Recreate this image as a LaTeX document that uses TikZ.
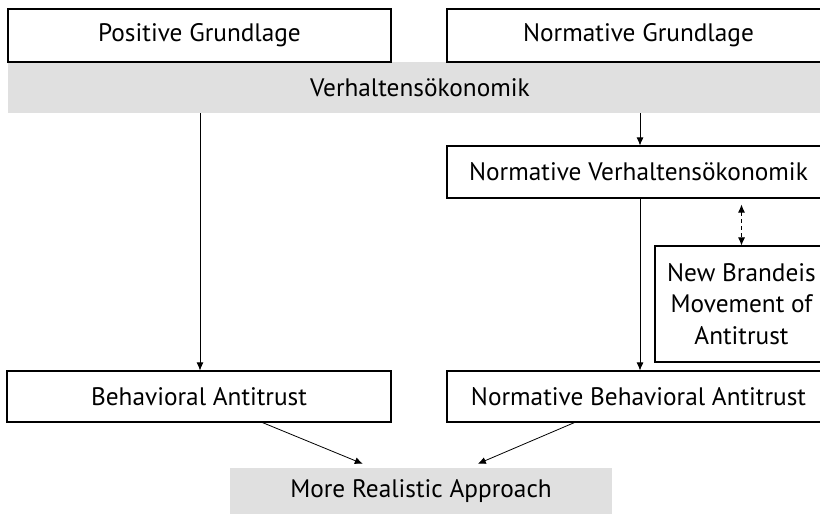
\documentclass[tikz,border=0pt]{standalone}
\usepackage{fontspec}
\setmainfont{PT Sans}
\usetikzlibrary{arrows.meta,calc}
\definecolor{bandgray}{HTML}{E0E0E0}
\tikzset{
  box/.style={draw=black, line width=1.1pt, rectangle, inner sep=0pt, font=\fontsize{25.3}{31.5}\selectfont},
  band/.style={fill=bandgray, rectangle, inner sep=0pt, font=\fontsize{25.3}{31.5}\selectfont},
  conn/.style={line width=0.8pt, -{Latex[length=8pt,width=7pt]}},
  dconn/.style={line width=0.8pt, dashed, dash pattern=on 4pt off 3pt, {Latex[length=8pt,width=7pt]}-{Latex[length=8pt,width=7pt]}}
}
\begin{document}
\begin{tikzpicture}[x=1pt,y=-1pt]
\clip (0,0) rectangle (820,515);
\fill[white] (0,0) rectangle (820,515);
\node[band, minimum width=824pt, minimum height=51pt] (verh) at (420,87.5) {Verhaltensökonomik};
\node[box, minimum width=383pt, minimum height=53pt] (pg) at (199.5,35.5) {Positive Grundlage};
\node[box, minimum width=383pt, minimum height=53pt] (ng) at (638.5,35.5) {Normative Grundlage};
\node[box, minimum width=383pt, minimum height=52pt] (nv) at (638.5,172) {Normative Verhaltensökonomik};
\node[box, minimum width=173pt, minimum height=116pt, align=center] (nb) at (741.5,304) {New Brandeis\\Movement of\\Antitrust};
\node[box, minimum width=384pt, minimum height=51pt] (ba) at (199,396.5) {Behavioral Antitrust};
\node[box, minimum width=383pt, minimum height=51pt] (nba) at (638.5,396.5) {Normative Behavioral Antitrust};
\node[band, minimum width=382pt, minimum height=46pt] (mra) at (421,491) {More Realistic Approach};
\draw[conn] (verh.south -| 200,0) -- (ba.north -| 200,0);
\draw[conn] (verh.south -| 640,0) -- (nv.north -| 640,0);
\draw[conn] (nv.south -| 640,0) -- (nba.north -| 640,0);
\draw[dconn, shorten <=6pt] (nv.south -| nb.north) -- (nb.north);
\coordinate (t1) at ($(mra.north west)+(133,-4)$);
\coordinate (t2) at ($(mra.north west)+(248,-4)$);
\draw[conn] ($(ba.south west)+(256,0)$) -- (t1);
\draw[conn] ($(nba.south west)+(128,0)$) -- (t2);
\end{tikzpicture}
\end{document}
